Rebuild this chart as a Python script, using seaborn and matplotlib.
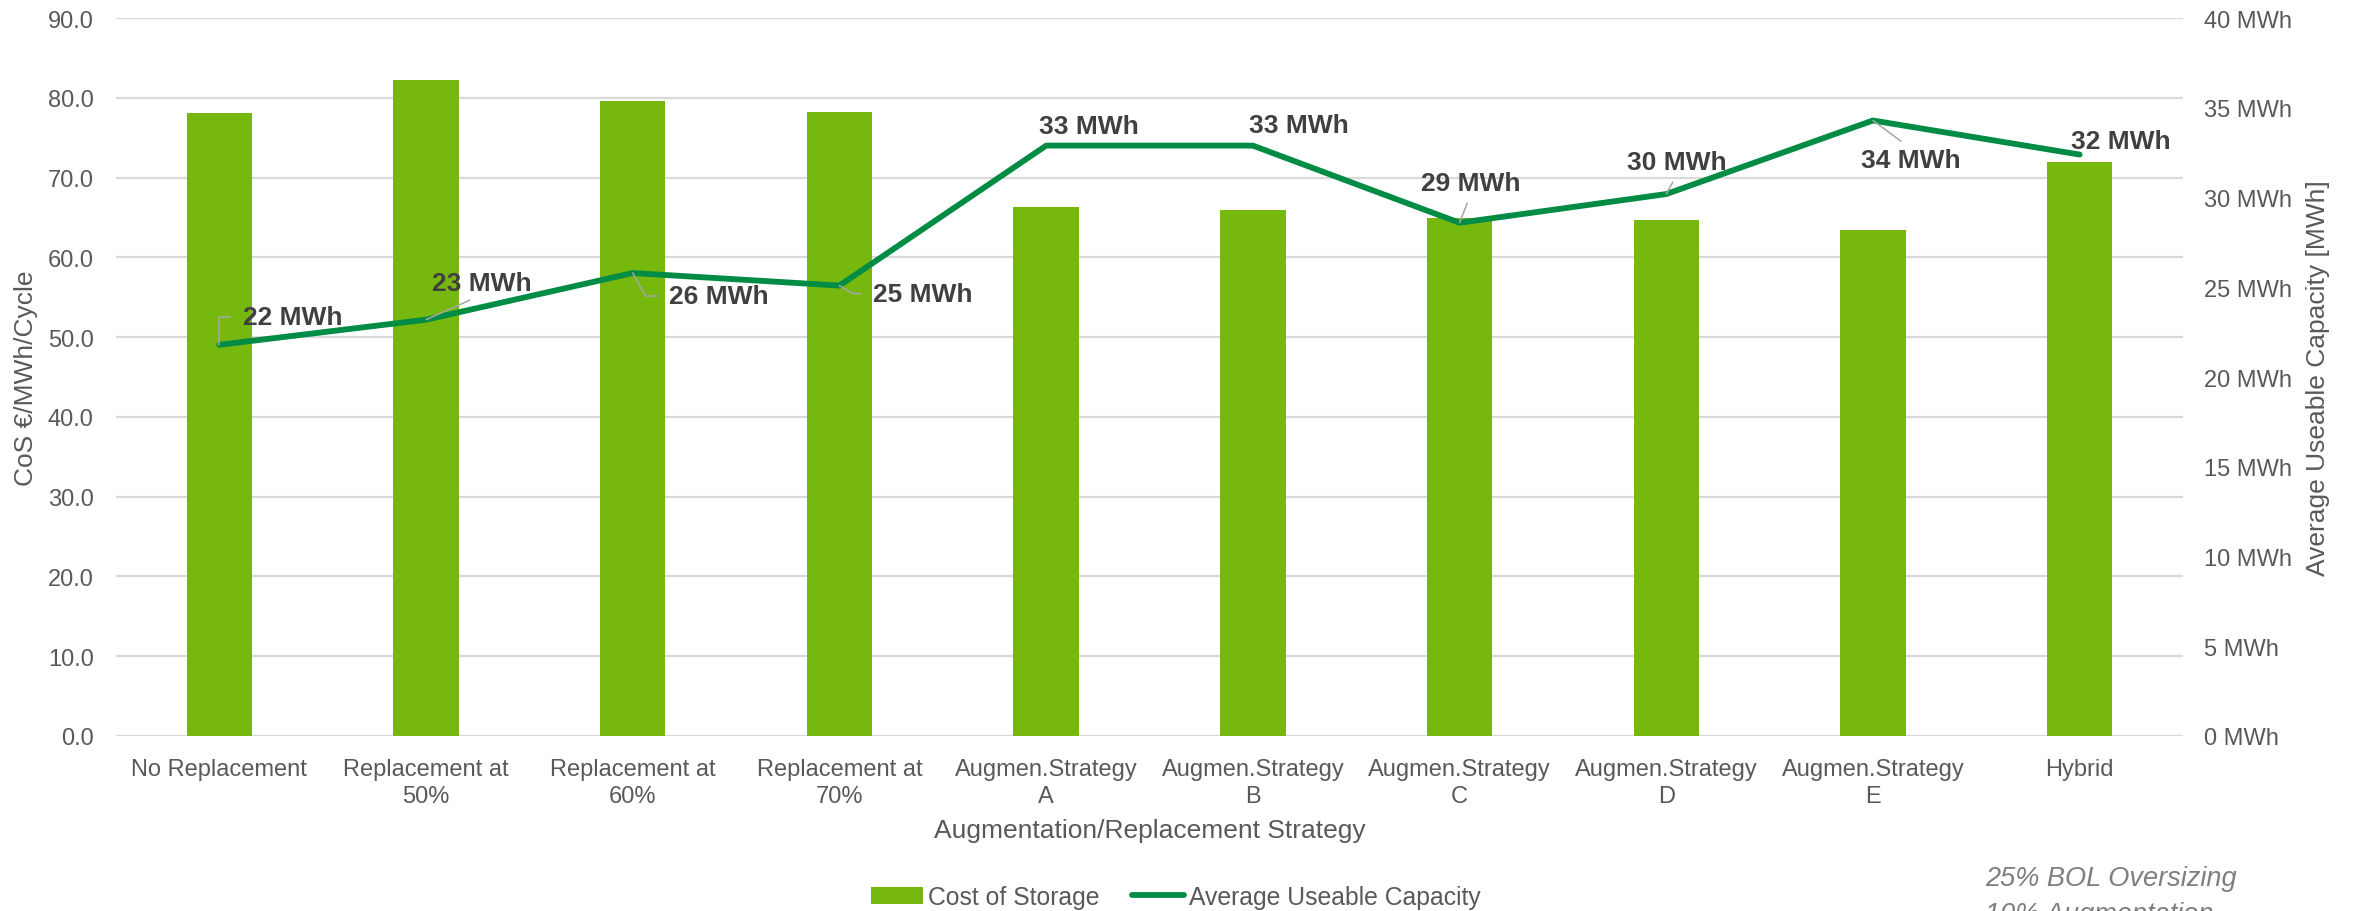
import numpy as np
import pandas as pd
import matplotlib
matplotlib.use("Agg")
import matplotlib.pyplot as plt
from matplotlib.ticker import FuncFormatter, FixedLocator
import seaborn as sns

# ---- data -------------------------------------------------------------
categories = [
    "No Replacement",
    "Replacement at\n50%",
    "Replacement at\n60%",
    "Replacement at\n70%",
    "Augmen.Strategy\nA",
    "Augmen.Strategy\nB",
    "Augmen.Strategy\nC",
    "Augmen.Strategy\nD",
    "Augmen.Strategy\nE",
    "Hybrid",
]
cost_of_storage = [78.1, 82.2, 79.6, 78.3, 66.3, 66.0, 65.0, 64.7, 63.5, 72.0]
useable_capacity = [21.8, 23.2, 25.8, 25.1, 32.9, 32.9, 28.6, 30.2, 34.3, 32.4]

cost_ticks = list(range(0, 91, 10))
capacity_ticks = list(range(0, 41, 5))

bar_label = "Cost of Storage"
line_label = "Average Useable Capacity"
x_title = "Augmentation/Replacement Strategy"
left_title = "CoS €/MWh/Cycle"
right_title = "Average Useable Capacity [MWh]"
note_text = "25% BOL Oversizing\n10% Augmentation"

# ---- styling ----------------------------------------------------------
BAR_COLOR = "#77B80F"
LINE_COLOR = "#008C44"
GRID_COLOR = "#D9D9D9"
TICK_COLOR = "#595959"
LABEL_COLOR = "#404040"
LEADER_COLOR = "#A6A6A6"

sns.set_theme(style="white")
plt.rcParams["font.family"] = ["Liberation Sans", "DejaVu Sans"]

W, H = 2359, 912
fig = plt.figure(figsize=(W / 100, H / 100), dpi=100)
left_px, right_px, top_px, bottom_px = 116, 2183, 19.2, 737
ax = fig.add_axes([left_px / W, 1 - bottom_px / H,
                   (right_px - left_px) / W, (bottom_px - top_px) / H])

df = pd.DataFrame({"Strategy": categories,
                   "Cost": cost_of_storage,
                   "Capacity": useable_capacity})
df["pos"] = np.arange(len(df))

sns.barplot(data=df, x="Strategy", y="Cost", color=BAR_COLOR, saturation=1,
            width=0.316, linewidth=0, ax=ax, label=bar_label)
if ax.get_legend() is not None:
    ax.get_legend().remove()

ax2 = ax.twinx()
sns.lineplot(data=df, x="pos", y="Capacity", color=LINE_COLOR, linewidth=4.2,
             solid_capstyle="round", ax=ax2, label=line_label, legend=False)
if ax2.get_legend() is not None:
    ax2.get_legend().remove()

ax.set_xlim(-0.5, len(categories) - 0.5)
ax.set_ylim(0, 90)
ax2.set_ylim(0, 40)

ax.yaxis.set_major_locator(FixedLocator(cost_ticks))
ax.yaxis.set_major_formatter(FuncFormatter(lambda v, p: f"{v:.1f}"))
ax2.yaxis.set_major_locator(FixedLocator(capacity_ticks))
ax2.yaxis.set_major_formatter(FuncFormatter(lambda v, p: f"{v:.0f} MWh"))

ax.yaxis.grid(True, color=GRID_COLOR, linewidth=1.6)
ax.xaxis.grid(False)
ax2.grid(False)
ax.set_axisbelow(True)
for a in (ax, ax2):
    for s in a.spines.values():
        s.set_visible(False)

ax.tick_params(axis="x", length=0, pad=16, labelsize=17, labelcolor=TICK_COLOR)
ax.tick_params(axis="y", length=0, pad=16, labelsize=17, labelcolor=TICK_COLOR)
ax2.tick_params(axis="y", length=0, pad=15, labelsize=17, labelcolor=TICK_COLOR)
for lbl in ax.get_xticklabels():
    lbl.set_linespacing(1.3)

ax.set_xlabel(x_title, fontsize=19, color=TICK_COLOR)
ax.xaxis.set_label_coords(0.5, (bottom_px - 831) / (bottom_px - top_px))
ax.xaxis.label.set_va("center")

ax.set_ylabel(left_title, fontsize=19, color=TICK_COLOR)
ax.yaxis.set_label_coords((25.7 - left_px) / (right_px - left_px), 0.5)
ax.yaxis.label.set_va("center")

ax2.set_ylabel(right_title, fontsize=19, color=TICK_COLOR, rotation=90)
ax2.yaxis.set_label_coords((2318 - left_px) / (right_px - left_px), 0.5)
ax2.yaxis.label.set_va("center")

# ---- data labels with leader lines ------------------------------------
def leader(relpos, conn="arc3", shrink=5):
    return dict(arrowstyle="-", color=LEADER_COLOR, linewidth=1.1,
                relpos=relpos, connectionstyle=conn,
                shrinkA=shrink, shrinkB=0)

label_styles = [
    ((73, 28), leader((0, 0.5), "angle,angleA=0,angleB=90,rad=0", 7)),
    ((56, 37), leader((0.5, 0), "arc3", 4)),
    ((86, -23), leader((0, 0.5), "angle,angleA=0,angleB=-61,rad=0", 6)),
    ((83, -8), leader((0, 0.5), "angle,angleA=0,angleB=-32,rad=0", 6)),
    ((43, 20), None),
    ((46, 21), None),
    ((11, 40), leader((0.5, 0), "arc3", 4)),
    ((11, 32), leader((0.5, 0), "arc3", 4)),
    ((38, -40), leader((0.5, 1), "arc3", 5)),
    ((41, 14), None),
]

for i, (val, (offset, arrow)) in enumerate(zip(useable_capacity, label_styles)):
    ax2.annotate(f"{val:.0f} MWh", xy=(i, val), xytext=offset,
                 textcoords="offset pixels", ha="center", va="center",
                 fontsize=19, fontweight="bold", color=LABEL_COLOR,
                 arrowprops=arrow)

# ---- legend -----------------------------------------------------------
h1, l1 = ax.get_legend_handles_labels()
h2, l2 = ax2.get_legend_handles_labels()
leg = fig.legend(h1 + h2, l1 + l2, loc="center", bbox_to_anchor=(0.4985, 0.0154),
                 ncol=2, frameon=False, fontsize=17.8, handlelength=2.1,
                 handletextpad=0.2, columnspacing=1.3)
for t in leg.get_texts():
    t.set_color(TICK_COLOR)

fig.text(1985 / W, 1 - 866 / H, note_text, fontsize=19.5, style="italic",
         color="#7F7F7F", ha="left", va="top", linespacing=1.5)

fig.savefig("out.png", dpi=100)
